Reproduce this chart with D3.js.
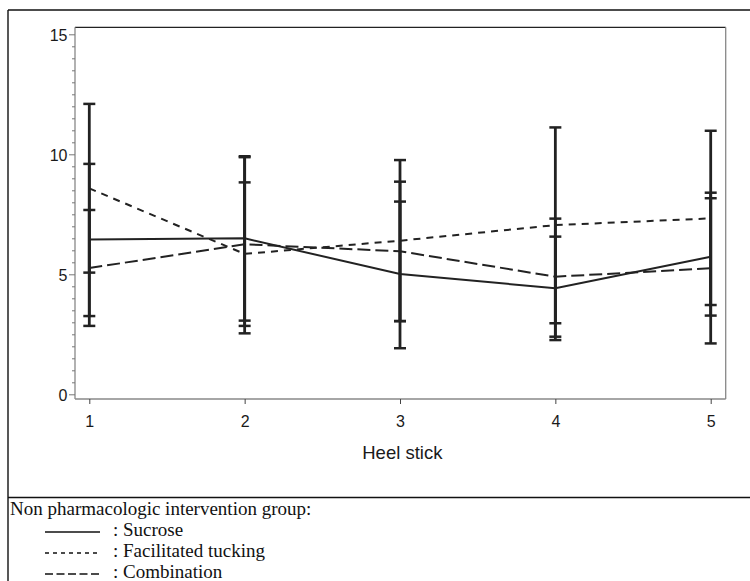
<!DOCTYPE html>
<html>
<head>
<meta charset="utf-8">
<script src="https://cdn.jsdelivr.net/npm/d3@7"></script>
<style>
	body { margin: 0; background: #fff; }
	svg { display: block; }
</style>
</head>
<body>
<div class="chart"></div>
<script>
// heel stick number on the x axis
const heelStick = [1, 2, 3, 4, 5];
const yTicks = [0, 5, 10, 15];

// mean and mean +/- SD for each group
const sucroseMean = [6.45, 6.5, 5.01, 4.42, 5.73];
const sucroseLow = [3.26, 3.07, 1.92, 2.26, 3.28];
const sucroseHigh = [9.6, 9.92, 8.03, 6.57, 8.17];

const tuckingMean = [8.58, 5.85, 6.4, 7.05, 7.33];
const tuckingLow = [5.07, 2.85, 3.05, 2.96, 3.72];
const tuckingHigh = [12.1, 8.83, 9.76, 11.12, 10.98];

const comboMean = [5.26, 6.25, 5.96, 4.9, 5.25];
const comboLow = [2.85, 2.54, 3.05, 2.4, 2.12];
const comboHigh = [7.68, 9.88, 8.86, 7.32, 8.4];

const groupNames = ["Sucrose", "Facilitated tucking", "Combination"];
const legendTitle = "Non pharmacologic intervention group:";
const xTitle = "Heel stick";

var w = 750,
	h = 581,
	plotLeft = 75,
	plotRight = 725.7,
	plotTop = 27.3,
	plotBottom = 399;

const svg = d3.select(".chart").append("svg").attr("width", w).attr("height", h);

const xScale = d3.scaleLinear().domain([1, 5]).range([89.3, 710.7]);
const yScale = d3.scaleLinear().domain([0, 15]).range([394.3, 34.3]);

const groups = [
	{ name: groupNames[0], mean: sucroseMean, low: sucroseLow, high: sucroseHigh, dash: null, legendDash: null },
	{ name: groupNames[1], mean: tuckingMean, low: tuckingLow, high: tuckingHigh, dash: "7,6", legendDash: "4,4" },
	{ name: groupNames[2], mean: comboMean, low: comboLow, high: comboHigh, dash: "13,5", legendDash: "8,3.5" }
];

// outer frame
svg.append("line").attr("x1", 8).attr("x2", w).attr("y1", 10).attr("y2", 10)
	.attr("stroke", "#111").attr("stroke-width", 1.4);
svg.append("line").attr("x1", 8).attr("x2", 8).attr("y1", 10).attr("y2", h)
	.attr("stroke", "#111").attr("stroke-width", 1.4);
svg.append("line").attr("x1", 8).attr("x2", w).attr("y1", 497.5).attr("y2", 497.5)
	.attr("stroke", "#111").attr("stroke-width", 1.4);

// plot frame
svg.append("line").attr("x1", plotLeft).attr("x2", plotRight).attr("y1", plotTop).attr("y2", plotTop)
	.attr("stroke", "#222").attr("stroke-width", 1.3);
svg.append("line").attr("x1", plotRight).attr("x2", plotRight).attr("y1", plotTop).attr("y2", plotBottom)
	.attr("stroke", "#888").attr("stroke-width", 1.3);

// axes
const yAxis = d3.axisLeft(yScale).tickValues(d3.range(0, 15.01, 0.5)).tickSize(3)
	.tickFormat((d) => (yTicks.includes(d) ? d : ""));
const gy = svg.append("g").attr("transform", "translate(" + plotLeft + ",0)").call(yAxis);
gy.attr("font-size", null);
gy.select(".domain").attr("d", "M0," + plotTop + "V" + plotBottom).attr("stroke", "#888").attr("stroke-width", 1.3);
gy.selectAll(".tick line").attr("stroke", "#777")
	.attr("x2", (d) => (yTicks.includes(d) ? -6 : -3));
gy.selectAll(".tick text").attr("x", -7.5).attr("dy", "0.38em")
	.style("font-family", "'Liberation Sans', Arial, sans-serif").style("font-size", "16px").attr("fill", "#1a1a1a");

const xAxis = d3.axisBottom(xScale).tickValues(heelStick).tickSize(5).tickFormat(d3.format("d"));
const gx = svg.append("g").attr("transform", "translate(0," + plotBottom + ")").call(xAxis);
gx.attr("font-size", null);
gx.select(".domain").attr("d", "M" + plotLeft + ",0H" + plotRight).attr("stroke", "#888").attr("stroke-width", 1.3);
gx.selectAll(".tick line").attr("stroke", "#444");
gx.selectAll(".tick text").attr("y", 16.5).attr("dy", "0.71em")
	.style("font-family", "'Liberation Sans', Arial, sans-serif").style("font-size", "16px").attr("fill", "#1a1a1a");

svg.append("text")
	.attr("x", (plotLeft + plotRight) / 2 + 2)
	.attr("y", 459)
	.attr("text-anchor", "middle")
	.style("font-family", "'Liberation Sans', Arial, sans-serif")
	.style("font-size", "18.5px")
	.attr("fill", "#1a1a1a")
	.text(xTitle);

// error bars
groups.forEach(function (g) {
	const bars = svg.append("g");
	bars.selectAll("line.stem")
		.data(heelStick)
		.enter()
		.append("line")
		.attr("x1", (d) => xScale(d)).attr("x2", (d) => xScale(d))
		.attr("y1", (d, i) => yScale(g.low[i])).attr("y2", (d, i) => yScale(g.high[i]))
		.attr("stroke", "#222").attr("stroke-width", 2.8);
	[g.low, g.high].forEach(function (vals) {
		bars.selectAll(null)
			.data(heelStick)
			.enter()
			.append("line")
			.attr("x1", (d) => xScale(d) - 6).attr("x2", (d) => xScale(d) + 6)
			.attr("y1", (d, i) => yScale(vals[i])).attr("y2", (d, i) => yScale(vals[i]))
			.attr("stroke", "#222").attr("stroke-width", 2.5);
	});
});

// mean lines
const line = d3.line().x((d) => xScale(d[0])).y((d) => yScale(d[1]));
groups.forEach(function (g) {
	svg.append("path")
		.datum(heelStick.map((d, i) => [d, g.mean[i]]))
		.attr("d", line)
		.attr("fill", "none")
		.attr("stroke", "#222")
		.attr("stroke-width", 2)
		.attr("stroke-dasharray", g.dash);
});

// legend
const serif = "'Liberation Serif', 'Times New Roman', serif";
svg.append("text").attr("x", 10).attr("y", 515)
	.style("font-family", serif).style("font-size", "19px").attr("fill", "#111")
	.text(legendTitle);

const legend = svg.append("g")
	.selectAll("g")
	.data(groups)
	.enter()
	.append("g")
	.attr("transform", (d, i) => "translate(0," + (536 + i * 21) + ")");

legend.append("line")
	.attr("x1", 45).attr("x2", 100).attr("y1", -4).attr("y2", -4)
	.attr("stroke", "#111").attr("stroke-width", 1.3)
	.attr("stroke-dasharray", (d) => d.legendDash);

legend.append("text")
	.attr("x", 113)
	.style("font-family", serif).style("font-size", "19px").attr("fill", "#111")
	.text((d) => ": " + d.name);
</script>
</body>
</html>
